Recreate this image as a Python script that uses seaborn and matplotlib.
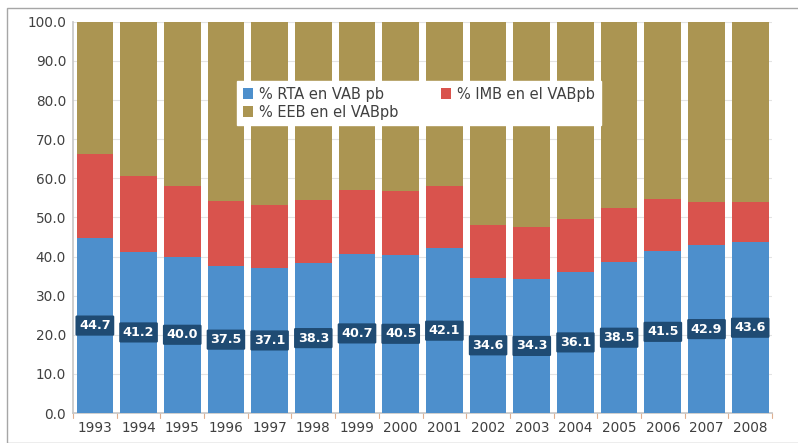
import matplotlib
matplotlib.use("Agg")
import matplotlib.pyplot as plt
import seaborn as sns
import pandas as pd
import numpy as np
from matplotlib.patches import Patch, Rectangle

years = [str(y) for y in range(1993, 2009)]
rta = [44.7, 41.2, 40.0, 37.5, 37.1, 38.3, 40.7, 40.5, 42.1, 34.6, 34.3, 36.1, 38.5, 41.5, 42.9, 43.6]
imb = [21.5, 19.5, 18.1, 16.7, 16.1, 16.2, 16.3, 16.3, 16.0, 13.5, 13.3, 13.6, 13.9, 13.2, 11.1, 10.3]
eeb = [round(100 - a - b, 1) for a, b in zip(rta, imb)]
series_names = ["% RTA en VAB pb", "% IMB en el VABpb", "% EEB en el VABpb"]
colors = ["#4D8FCC", "#D9534D", "#AB9552"]

df = pd.DataFrame({"year": years, "rta": rta, "imb": imb, "eeb": eeb})
df["c2"] = df["rta"] + df["imb"]
df["c3"] = df["c2"] + df["eeb"]

sns.set_theme(style="white")
plt.rcParams["font.family"] = ["DejaVu Sans"]

fig = plt.figure(figsize=(7.98, 4.43), dpi=100)
ax = fig.add_axes([0.0915, 0.0677, 0.876, 0.883])

for col, c in zip(["c3", "c2", "rta"], colors[::-1]):
    sns.barplot(data=df, x="year", y=col, color=c, width=0.84, ax=ax,
                saturation=1, edgecolor="none", zorder=3)

ax.set_ylim(0, 100)
ax.set_xlim(-0.5, len(years) - 0.5)
ax.set_yticks(np.arange(0, 101, 10))
ax.set_yticklabels([f"{v:.1f}" for v in np.arange(0, 101, 10)], fontsize=9.8, color="#404040")
ax.tick_params(axis="x", labelsize=9.8, labelcolor="#404040", length=0, pad=6)
ax.tick_params(axis="y", length=0, pad=5)
ax.set_xlabel("")
ax.set_ylabel("")
ax.grid(axis="y", color="#E3E3E3", linewidth=0.8, zorder=0)
ax.set_axisbelow(True)
for s in ["top", "right"]:
    ax.spines[s].set_visible(False)
ax.spines["left"].set_color("#C8C8C8")
ax.spines["bottom"].set_color("#C8C8C8")
for i in range(len(years) + 1):
    ax.plot([i - 0.5, i - 0.5], [0, -1.2], color="#E0B090", lw=0.8, clip_on=False)

for i, v in enumerate(rta):
    ax.text(i, v / 2, f"{v:.1f}", ha="center", va="center", color="white",
            fontsize=9.2, fontweight="bold", zorder=5,
            bbox=dict(boxstyle="round,pad=0.28,rounding_size=0.1", fc="#1F4B73", ec="none"))

order = [0, 2, 1]
handles = [Patch(facecolor=colors[k], edgecolor="none") for k in order]
labels = [series_names[k] for k in order]
leg = ax.legend(handles, labels, ncol=2, loc="upper left",
                bbox_to_anchor=(0.2246, 0.868), frameon=True, fancybox=False,
                fontsize=10.5, handlelength=0.7, handleheight=0.7, handletextpad=0.4,
                columnspacing=2.9, labelspacing=0.2, borderpad=0.4)
leg.get_frame().set_facecolor("white")
leg.get_frame().set_edgecolor("white")
leg.get_frame().set_alpha(1)
for t in leg.get_texts():
    t.set_color("#404040")
leg.set_zorder(10)

fig.patches.append(Rectangle((7 / 798, 0), 1, 1 - 8 / 443, transform=fig.transFigure,
                             fill=False, edgecolor="#A6A6A6", linewidth=1))

fig.savefig("out.png", dpi=100)
